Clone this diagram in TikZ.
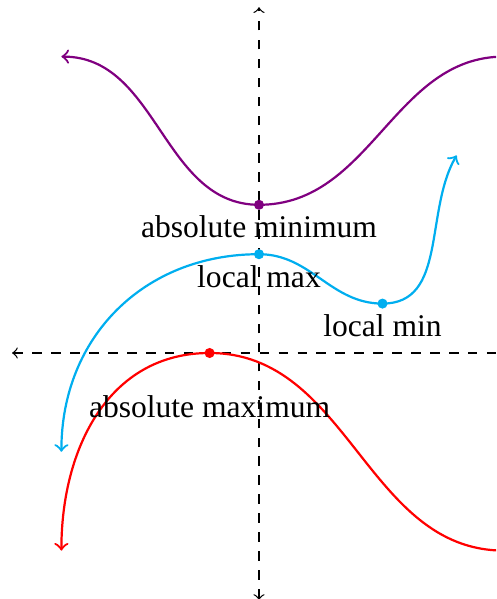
\documentclass[tikz,border=0pt]{standalone}
\usepackage{fontspec}
\setmainfont{Liberation Serif}
\usetikzlibrary{positioning}
\definecolor{fnpurple}{HTML}{800080}
\definecolor{fnblue}{HTML}{00AEEF}
\definecolor{fnred}{HTML}{FF0000}

\begin{document}
\begin{tikzpicture}[x=0.55cm, y=0.55cm, node distance=0.35cm]
      \clip (-5.243,-4.98) rectangle (4.798,7.146);

      % Axes
      \coordinate (west) at (-5,0);
      \coordinate (east) at (5,0);
      \coordinate (south) at (0,-5);
      \coordinate (north) at (0,7);
      \draw[dashed, <->] (west) -- (east);
      \draw[dashed, <->] (south) -- (north);

      % Points
      \coordinate (absmin) at (0,3);
      \coordinate (locmax) at (0,2);
      \coordinate (locmin) at (2.5,1);
      \coordinate (absmax) at (-1,0);
      \coordinate (purpleleft) at (-4,6);
      \coordinate (purpleright) at (5,6);
      \coordinate (blueleft) at (-4,-2);
      \coordinate (blueright) at (4,4);
      \coordinate (redleft) at (-4,-4);
      \coordinate (redright) at (5,-4);

      % Curves
      \draw[fnpurple, line width=0.7pt, <->] (purpleleft) to[out=0, in=180] (absmin) to[out=0, in=180] (purpleright);
      \draw[fnblue, line width=0.7pt, <->] (blueleft) to[out=90, in=180, looseness=1.05] (locmax) to[out=0, in=180] (locmin) to[out=0, in=-120] (blueright);
      \draw[fnred, line width=0.7pt, <->] (redleft) to[out=90, in=180, looseness=1.05] (absmax) to[out=0, in=180] (redright);

      % Dots
      \fill[fnpurple] (absmin) circle (1.6pt);
      \fill[fnblue] (locmax) circle (1.6pt);
      \fill[fnblue] (locmin) circle (1.6pt);
      \fill[fnred] (absmax) circle (1.6pt);

      % Labels
      \node[below] (absminlabel) at (absmin) {absolute minimum};
      \node[below] (locmaxlabel) at (locmax) {local max};
      \node[below] (locminlabel) at (locmin) {local min};
      \node[below=of absmax] (absmaxlabel) {absolute maximum};
    \end{tikzpicture}
\end{document}
